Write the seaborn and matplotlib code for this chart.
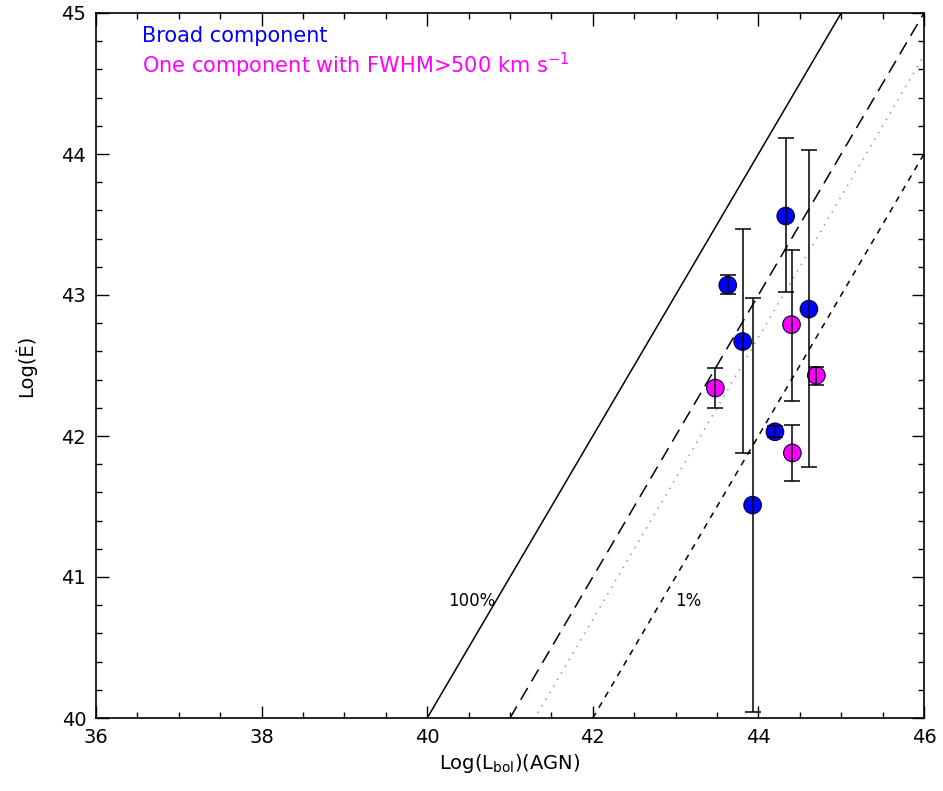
import numpy as np
import pandas as pd
import matplotlib
matplotlib.use("Agg")
import matplotlib.pyplot as plt
import seaborn as sns
from matplotlib.ticker import MultipleLocator

# Broad component points
broad_x = [43.63, 43.81, 43.93, 44.33, 44.61, 44.20]
broad_y = [43.07, 42.67, 41.51, 43.56, 42.90, 42.03]
broad_up = [43.14, 43.47, 42.98, 44.11, 44.03, 42.07]
broad_lo = [43.01, 41.88, 40.04, 43.02, 41.78, 41.99]

# One component with FWHM > 500 km/s
one_x = [43.48, 44.40, 44.70, 44.41]
one_y = [42.34, 42.79, 42.43, 41.88]
one_up = [42.48, 43.32, 42.49, 42.08]
one_lo = [42.20, 42.25, 42.36, 41.68]

# Efficiency lines: log(E) = log(L) + log(eff)
efficiencies = [1.0, 0.1, 0.05, 0.01]
line_styles = [dict(ls='-', color='black'),
               dict(ls=(0, (9, 5)), color='black'),
               dict(ls=(0, (1, 4)), color='#999999'),
               dict(ls=(0, (4, 4)), color='black')]

sns.set_theme(style="white")
plt.rcParams['font.family'] = ['DejaVu Sans']
plt.rcParams['text.color'] = 'black'
plt.rcParams['axes.labelcolor'] = 'black'
plt.rcParams['xtick.color'] = 'black'
plt.rcParams['ytick.color'] = 'black'

fig = plt.figure(figsize=(9.43, 7.91), dpi=100)
ax = fig.add_axes([96/943, 1-718/791, 828/943, 705/791])

xline = np.linspace(36, 46, 200)
for eff, st in zip(efficiencies, line_styles):
    ax.plot(xline, xline + np.log10(eff), lw=1.1, **st, zorder=1)

df = pd.DataFrame({
    'x': broad_x + one_x,
    'y': broad_y + one_y,
    'grp': ['Broad'] * len(broad_x) + ['One'] * len(one_x),
})
sns.scatterplot(data=df, x='x', y='y', hue='grp',
                palette={'Broad': '#0000ff', 'One': '#ff00ff'},
                s=160, edgecolor='#000033', linewidth=0.8,
                legend=False, ax=ax, zorder=3)

for xs, ys, up, lo in [(broad_x, broad_y, broad_up, broad_lo),
                       (one_x, one_y, one_up, one_lo)]:
    ys = np.array(ys)
    yerr = np.vstack([ys - np.array(lo), np.array(up) - ys])
    ax.errorbar(xs, ys, yerr=yerr, fmt='none', ecolor='black',
                elinewidth=1.1, capsize=5.5, capthick=1.1, zorder=4)

ax.set_xlim(36, 46)
ax.set_ylim(40, 45)
ax.xaxis.set_major_locator(MultipleLocator(2))
ax.xaxis.set_minor_locator(MultipleLocator(0.5))
ax.yaxis.set_major_locator(MultipleLocator(1))
ax.yaxis.set_minor_locator(MultipleLocator(0.2))
ax.tick_params(which='both', direction='in', top=True, right=True,
               bottom=True, left=True, color='black', width=1.0)
ax.tick_params(which='major', length=9, labelsize=14, pad=7,
               labelcolor='black')
ax.tick_params(which='minor', length=4.5)
for s in ax.spines.values():
    s.set_color('black')
    s.set_linewidth(1.2)

ax.set_xlabel(r'Log(L$_{\rm bol}$)(AGN)', fontsize=14, labelpad=4)
ax.set_ylabel('Log(Ė)', fontsize=14, labelpad=18)

ax.text(40.54, 40.83, '100%', fontsize=12, ha='center', va='center')
ax.text(43.15, 40.83, '1%', fontsize=12, ha='center', va='center')

ax.text(0.056, 0.967, 'Broad component', color='#0000ff', fontsize=15,
        transform=ax.transAxes, ha='left', va='center')
ax.text(0.056, 0.925, r'One component with FWHM>500 km s$^{-1}$',
        color='#ff00ff', fontsize=15, transform=ax.transAxes,
        ha='left', va='center')

fig.savefig('out.png', dpi=100)
